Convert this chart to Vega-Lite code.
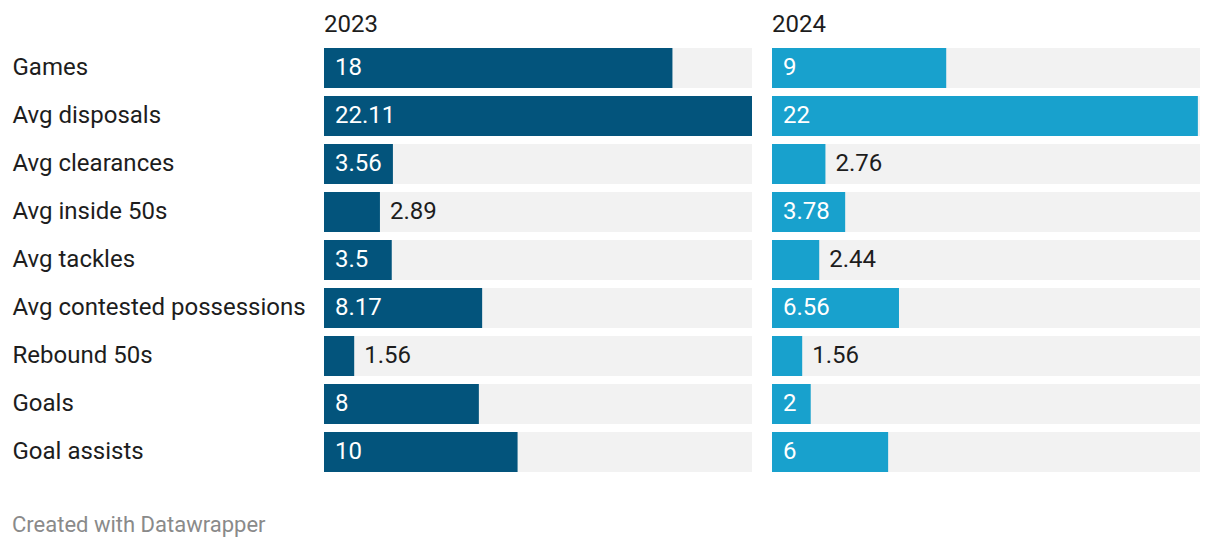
{
  "$schema": "https://vega.github.io/schema/vega-lite/v6.json",
  "padding": {"left": 12, "top": 13, "right": 20, "bottom": 10},
  "background": "white",
  "config": {"view": {"stroke": null}, "font": "Roboto"},
  "data": {"values": [
    {"stat": "Games", "year": "2023", "value": 18},
    {"stat": "Avg disposals", "year": "2023", "value": 22.11},
    {"stat": "Avg clearances", "year": "2023", "value": 3.56},
    {"stat": "Avg inside 50s", "year": "2023", "value": 2.89},
    {"stat": "Avg tackles", "year": "2023", "value": 3.5},
    {"stat": "Avg contested possessions", "year": "2023", "value": 8.17},
    {"stat": "Rebound 50s", "year": "2023", "value": 1.56},
    {"stat": "Goals", "year": "2023", "value": 8},
    {"stat": "Goal assists", "year": "2023", "value": 10},
    {"stat": "Games", "year": "2024", "value": 9},
    {"stat": "Avg disposals", "year": "2024", "value": 22},
    {"stat": "Avg clearances", "year": "2024", "value": 2.76},
    {"stat": "Avg inside 50s", "year": "2024", "value": 3.78},
    {"stat": "Avg tackles", "year": "2024", "value": 2.44},
    {"stat": "Avg contested possessions", "year": "2024", "value": 6.56},
    {"stat": "Rebound 50s", "year": "2024", "value": 1.56},
    {"stat": "Goals", "year": "2024", "value": 2},
    {"stat": "Goal assists", "year": "2024", "value": 6}
  ]},
  "transform": [
    {"calculate": "'' + datum.value", "as": "label"},
    {"calculate": "datum.value / 22.11 * 428 > length('' + datum.value) * 12 + 12", "as": "inside"}
  ],
  "title": {
    "text": "Created with Datawrapper",
    "orient": "bottom",
    "anchor": "start",
    "fontSize": 22,
    "fontWeight": "normal",
    "color": "#8a8a8a",
    "font": "Roboto",
    "offset": 39
  },
  "facet": {
    "column": {
      "field": "year",
      "type": "nominal",
      "title": null,
      "header": {
        "labelAnchor": "start",
        "labelAlign": "left",
        "labelFontSize": 24,
        "labelFont": "Roboto",
        "labelColor": "#1d1d1d",
        "labelBaseline": "alphabetic",
        "labelPadding": -12
      }
    }
  },
  "spacing": 20,
  "spec": {
    "width": 428,
    "height": 432,
    "encoding": {
      "y": {
        "field": "stat",
        "type": "nominal",
        "sort": ["Games", "Avg disposals", "Avg clearances", "Avg inside 50s", "Avg tackles", "Avg contested possessions", "Rebound 50s", "Goals", "Goal assists"],
        "scale": {"paddingInner": 0.1667, "paddingOuter": 0.0833},
        "axis": {
          "title": null,
          "domain": false,
          "ticks": false,
          "labelAlign": "left",
          "labelPadding": 312,
          "labelFontSize": 24,
          "labelFont": "Roboto",
          "labelColor": "#1d1d1d",
          "labelLimit": 400
        }
      }
    },
    "layer": [
      {
        "mark": {"type": "bar", "color": "#f2f2f2"},
        "encoding": {
          "x": {"datum": 22.11, "type": "quantitative", "scale": {"domain": [0, 22.11], "nice": false}, "axis": null}
        }
      },
      {
        "mark": {"type": "bar"},
        "encoding": {
          "x": {"field": "value", "type": "quantitative", "scale": {"domain": [0, 22.11], "nice": false}, "axis": null},
          "color": {"field": "year", "type": "nominal", "scale": {"domain": ["2023", "2024"], "range": ["#03547c", "#18a1cd"]}, "legend": null}
        }
      },
      {
        "transform": [{"filter": "datum.inside"}],
        "mark": {"type": "text", "align": "left", "baseline": "middle", "dx": 11, "fontSize": 24, "font": "Roboto", "color": "white"},
        "encoding": {
          "x": {"datum": 0, "type": "quantitative"},
          "text": {"field": "label", "type": "nominal"}
        }
      },
      {
        "transform": [{"filter": "!datum.inside"}],
        "mark": {"type": "text", "align": "left", "baseline": "middle", "dx": 10, "fontSize": 24, "font": "Roboto", "color": "#1d1d1d"},
        "encoding": {
          "x": {"field": "value", "type": "quantitative"},
          "text": {"field": "label", "type": "nominal"}
        }
      }
    ]
  },
  "resolve": {"scale": {"x": "shared"}}
}
